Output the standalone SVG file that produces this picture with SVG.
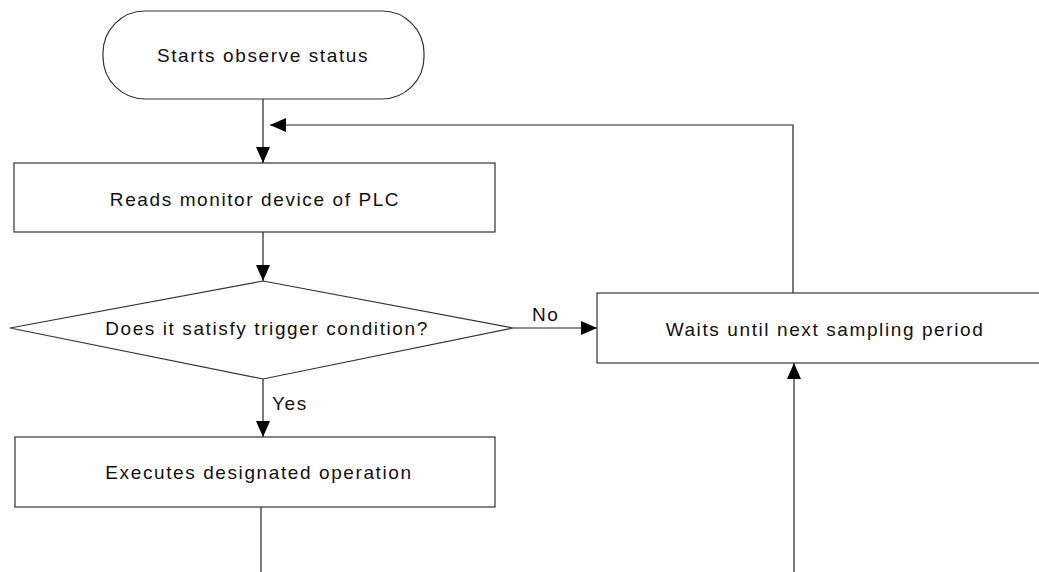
<svg xmlns="http://www.w3.org/2000/svg" width="1039" height="572" viewBox="0 0 1039 572">
<defs>
<style>
.shape{fill:#fff;stroke:#333;stroke-width:1.2}
.line{fill:none;stroke:#222;stroke-width:1.2}
.t{font-family:"Liberation Sans",Arial,sans-serif;font-size:19px;fill:#111;letter-spacing:1.6px}
.c{text-anchor:middle}
</style>
<marker id="ah" viewBox="0 0 16 14" refX="16" refY="7" markerWidth="16" markerHeight="14" markerUnits="userSpaceOnUse" orient="auto">
<path d="M0,0 L16,7 L0,14 Z" fill="#000"/>
</marker>
</defs>
<rect width="1039" height="572" fill="#fff"/>
<g id="connectors">
<line class="line" x1="263" y1="99" x2="263" y2="163" marker-end="url(#ah)"/>
<polyline class="line" points="793,293 793,125 270,125" marker-end="url(#ah)"/>
<line class="line" x1="263" y1="232" x2="263" y2="281" marker-end="url(#ah)"/>
<line class="line" x1="513" y1="328" x2="597" y2="328" marker-end="url(#ah)"/>
<text class="t" x="532" y="321">No</text>
<line class="line" x1="263" y1="379" x2="263" y2="437" marker-end="url(#ah)"/>
<text class="t" x="272" y="410">Yes</text>
<line class="line" x1="261" y1="507" x2="261" y2="572"/>
<line class="line" x1="794" y1="572" x2="794" y2="363" marker-end="url(#ah)"/>
</g>
<g id="start">
<rect class="shape" x="103" y="11" width="321" height="88" rx="42" ry="42"/>
<text class="t c" x="263" y="62">Starts observe status</text>
</g>
<g id="read">
<rect class="shape" x="14" y="163" width="481" height="69"/>
<text class="t c" x="255" y="206">Reads monitor device of PLC</text>
</g>
<g id="decision">
<polygon class="shape" points="263,281 513,328 263,379 10,328"/>
<text class="t c" x="267" y="335">Does it satisfy trigger condition?</text>
</g>
<g id="wait">
<rect class="shape" x="597" y="293" width="460" height="70"/>
<text class="t c" x="825" y="336">Waits until next sampling period</text>
</g>
<g id="execute">
<rect class="shape" x="15" y="437" width="480" height="70"/>
<text class="t c" x="259" y="479">Executes designated operation</text>
</g>
</svg>
